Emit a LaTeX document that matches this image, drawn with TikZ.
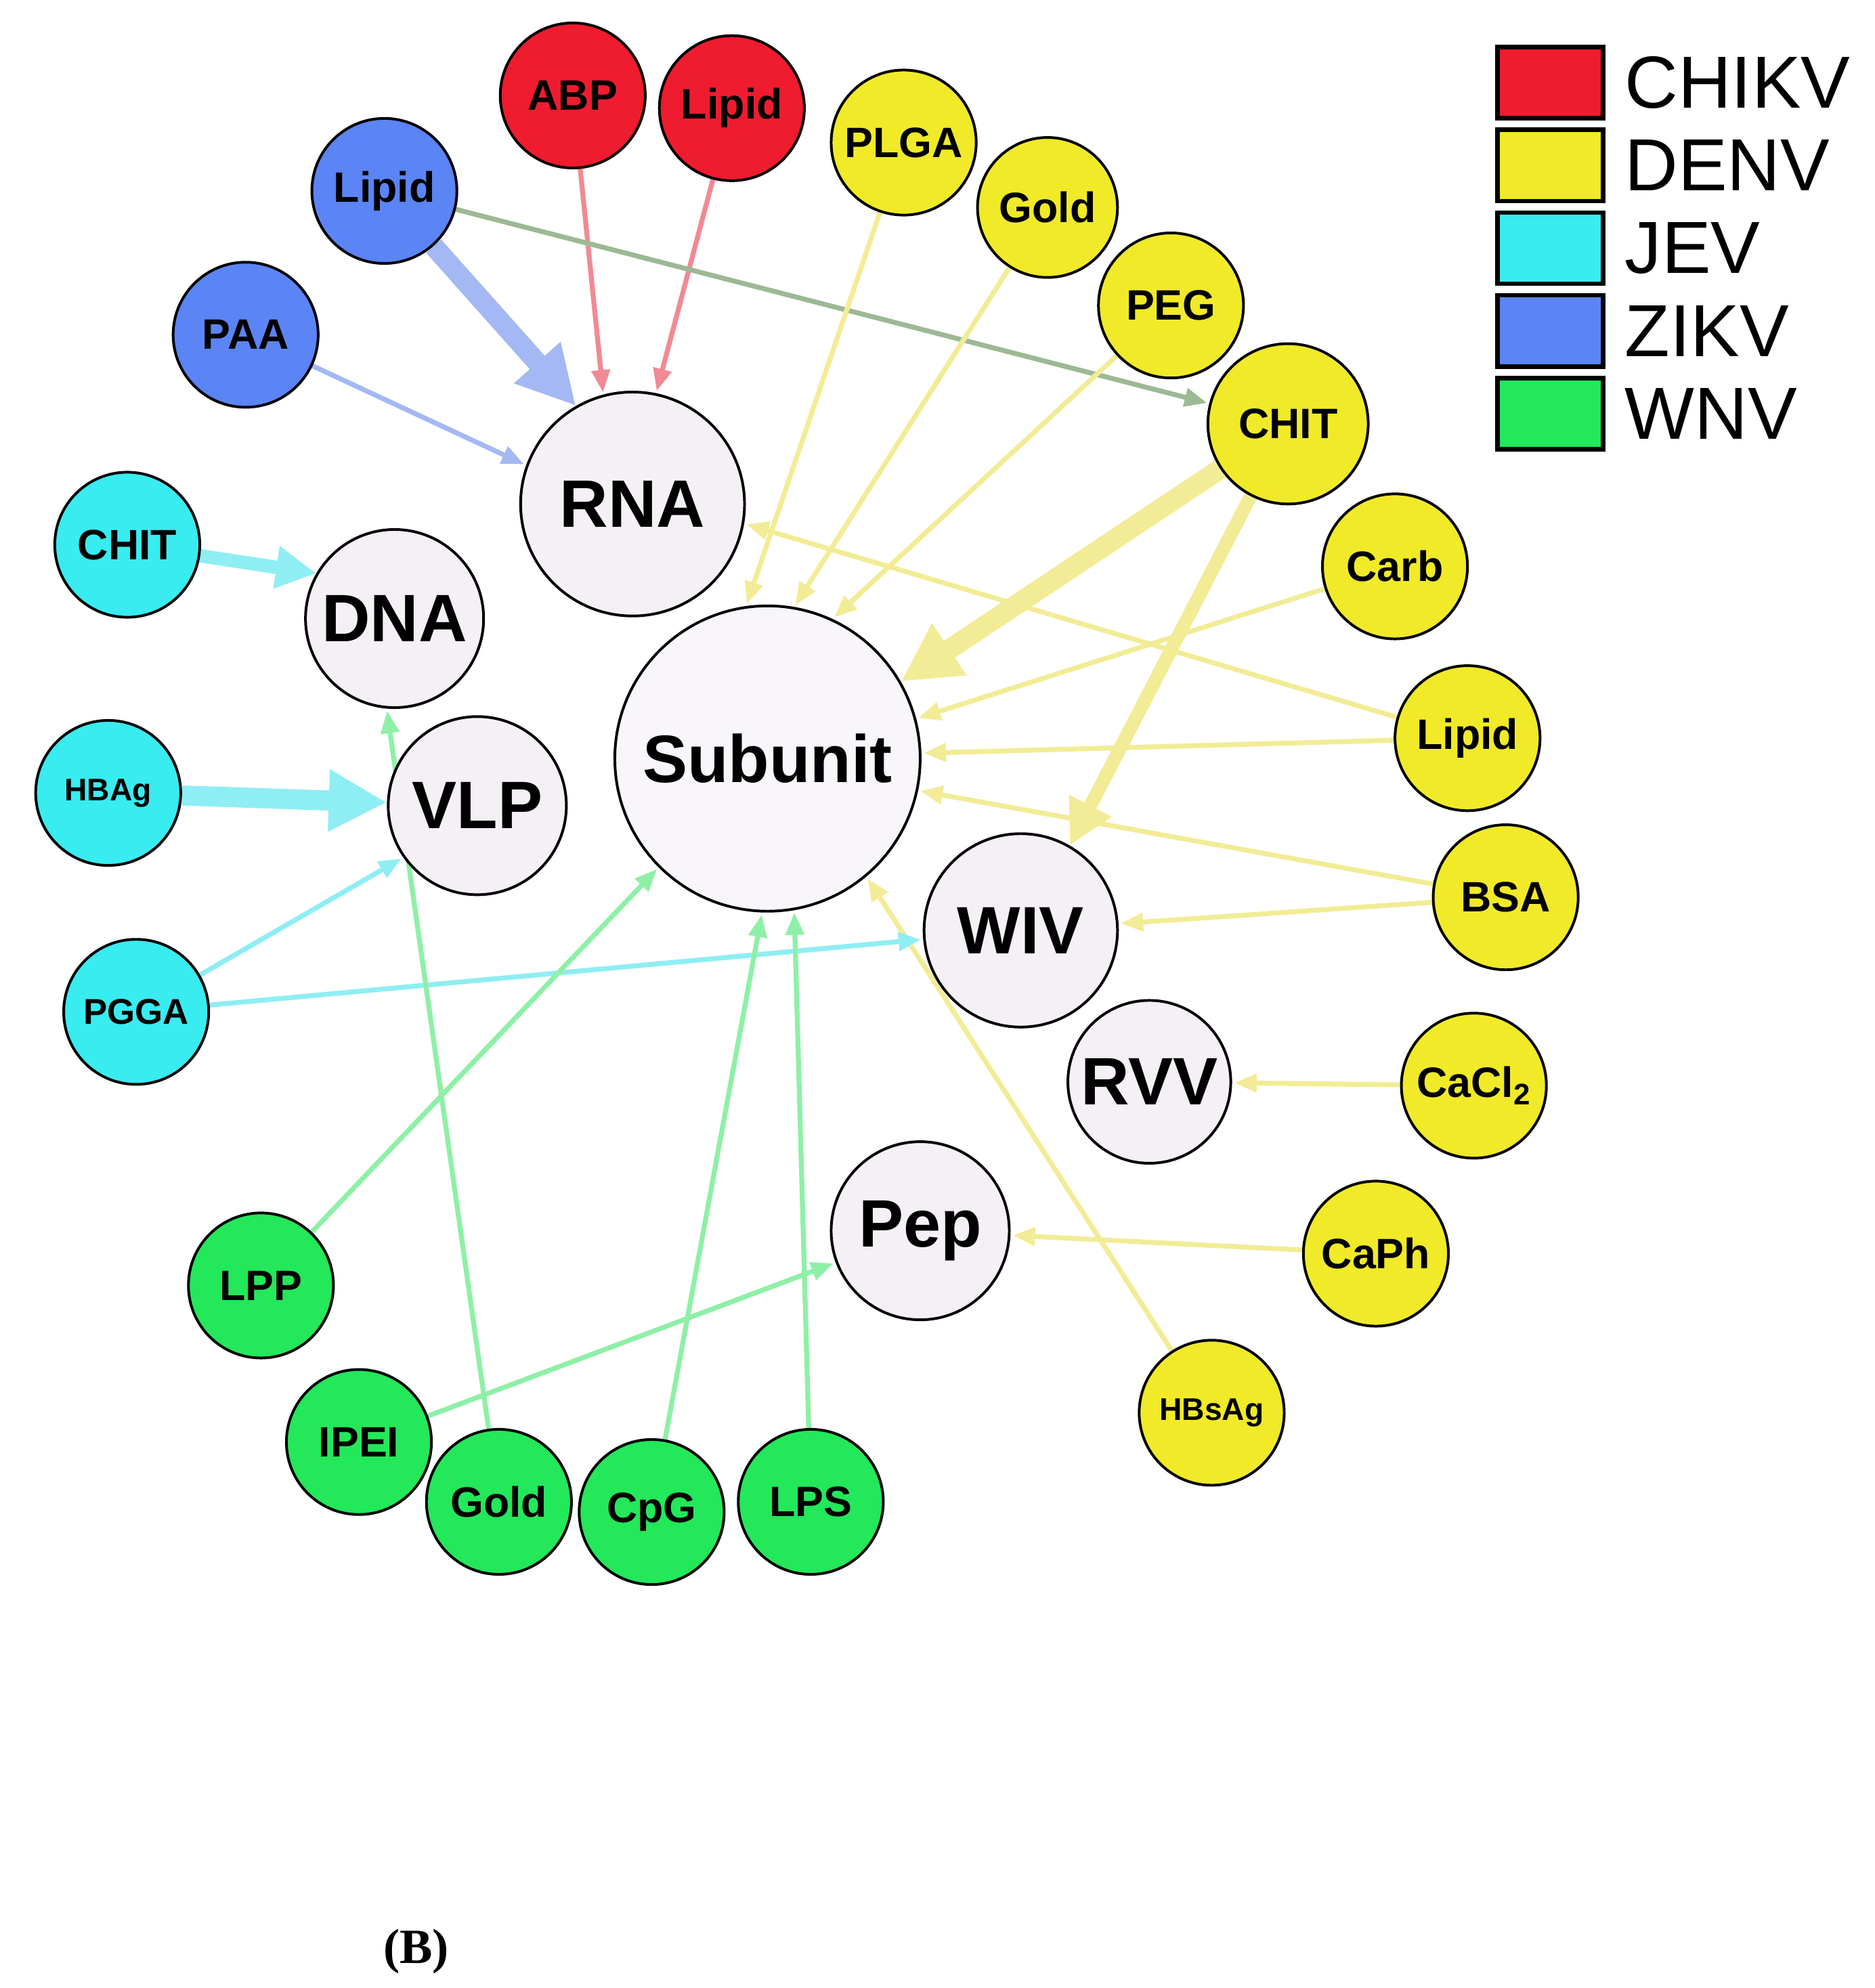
\documentclass[tikz,border=0pt]{standalone}
\usepackage{fontspec}
\setmainfont{Liberation Sans}
\usetikzlibrary{arrows.meta,backgrounds}
\definecolor{cred}{HTML}{EE1C2E}
\definecolor{cyel}{HTML}{F0EA28}
\definecolor{ccya}{HTML}{38ECF0}
\definecolor{cblu}{HTML}{5B84F5}
\definecolor{cgrn}{HTML}{22E85A}
\definecolor{cnode}{HTML}{F4F0F6}
\definecolor{ered}{HTML}{F08A94}
\definecolor{eyel}{HTML}{F2EC96}
\definecolor{ecya}{HTML}{8EEEF4}
\definecolor{eblu}{HTML}{A4B8F4}
\definecolor{egrn}{HTML}{8EF0A6}
\definecolor{egry}{HTML}{9CB894}
\begin{document}
\begin{tikzpicture}[x=0.02cm,y=-0.02cm,
  sm/.style={circle,draw=black,line width=1.2pt,minimum size=#1*0.04cm,inner sep=0pt,font=\bfseries\fontsize{19}{19}\selectfont},
  big/.style={circle,draw=black,line width=1.2pt,fill=cnode,minimum size=#1*0.04cm,inner sep=0pt,font=\bfseries\fontsize{30}{30}\selectfont},
  e/.style={draw=#1,line width=2.2pt,-{Triangle[length=10pt,width=8pt]},shorten >=1pt},
  th/.style={draw=#1,line width=9pt,-{Triangle[length=26pt,width=26pt]}},
  leg/.style={draw=black,line width=2pt,minimum width=1.66cm,minimum height=1.12cm,inner sep=0pt}
]
\useasboundingbox (0,0) rectangle (1473,1562);
% central nodes
\node[big=120,fill=cnode!60!white] (sub) at (603,596) {Subunit};
\node[big=88] (rna) at (497,396) {RNA};
\node[big=70] (dna) at (310,486) {DNA};
\node[big=70] (vlp) at (375,633) {VLP};
\node[big=76] (wiv) at (802,731) {WIV};
\node[big=64] (rvv) at (903,850) {RVV};
\node[big=70] (pep) at (723,967) {Pep};
% CHIKV
\node[sm=57,fill=cred] (abp) at (450,75) {ABP};
\node[sm=57,fill=cred] (lipr) at (575,85) {Lipid};
% ZIKV
\node[sm=57,fill=cblu] (lipb) at (302,150) {Lipid};
\node[sm=57,fill=cblu] (paa) at (193,263) {PAA};
% DENV
\node[sm=57,fill=cyel] (plga) at (710,112) {PLGA};
\node[sm=55,fill=cyel] (goldy) at (823,163) {Gold};
\node[sm=57,fill=cyel] (peg) at (920,240) {PEG};
\node[sm=63,fill=cyel] (chity) at (1012,333) {CHIT};
\node[sm=57,fill=cyel] (carb) at (1096,445) {Carb};
\node[sm=57,fill=cyel] (lipy) at (1153,580) {Lipid};
\node[sm=57,fill=cyel] (bsa) at (1183,705) {BSA};
\node[sm=57,fill=cyel] (cacl) at (1158,853) {CaCl\textsubscript{2}};
\node[sm=57,fill=cyel] (caph) at (1081,985) {CaPh};
\node[sm=57,fill=cyel,font=\bfseries\fontsize{14}{14}\selectfont] (hbs) at (952,1110) {HBsAg};
% JEV
\node[sm=57,fill=ccya] (chitc) at (100,428) {CHIT};
\node[sm=57,fill=ccya,font=\bfseries\fontsize{14}{14}\selectfont] (hba) at (85,623) {HBAg};
\node[sm=57,fill=ccya,font=\bfseries\fontsize{16}{16}\selectfont] (pgga) at (107,795) {PGGA};
% WNV
\node[sm=57,fill=cgrn] (lpp) at (205,1010) {LPP};
\node[sm=57,fill=cgrn] (ipei) at (282,1133) {IPEI};
\node[sm=57,fill=cgrn] (goldg) at (392,1180) {Gold};
\node[sm=57,fill=cgrn] (cpg) at (512,1188) {CpG};
\node[sm=57,fill=cgrn] (lps) at (637,1180) {LPS};
% edges
\begin{scope}[on background layer]
\draw[e=ered] (abp) -- (rna.105);
\draw[e=ered] (lipr) -- (rna.78);
\draw[th=eblu] (lipb) -- (rna.120);
\draw[e=egry] (lipb) -- (chity);
\draw[e=eblu] (paa) -- (rna.160);
\draw[e=eyel] (plga) -- (sub.98);
\draw[e=eyel] (goldy) -- (sub.80);
\draw[e=eyel] (peg) -- (sub.65);
\draw[th=eyel] (chity) -- (sub.30);
\draw[draw=eyel,line width=6pt,-{Triangle[length=20pt,width=20pt]}] (chity) -- (wiv.60);
\draw[e=eyel] (carb) -- (sub.15);
\draw[e=eyel] (lipy) -- (sub.2);
\draw[e=eyel] (lipy) -- (rna.-10);
\draw[e=eyel] (bsa) -- (sub.-12);
\draw[e=eyel] (bsa) -- (wiv);
\draw[e=eyel] (cacl) -- (rvv);
\draw[e=eyel] (caph) -- (pep);
\draw[e=eyel] (hbs) -- (sub.-50);
\draw[draw=ecya,line width=6pt,-{Triangle[length=18pt,width=18pt]}] (chitc) -- (dna.150);
\draw[th=ecya] (hba) -- (vlp);
\draw[e=ecya] (pgga) -- (vlp.215);
\draw[e=ecya] (pgga) -- (wiv);
\draw[e=egrn] (lpp) -- (sub.-135);
\draw[e=egrn] (ipei) -- (pep);
\draw[e=egrn] (goldg) -- (dna.-95);
\draw[e=egrn] (cpg) -- (sub.-92);
\draw[e=egrn] (lps) -- (sub.-80);
\end{scope}
% legend
\node[leg,fill=cred] (l1) at (1218,65) {};
\node[leg,fill=cyel] (l2) at (1218,130) {};
\node[leg,fill=ccya] (l3) at (1218,195) {};
\node[leg,fill=cblu] (l4) at (1218,260) {};
\node[leg,fill=cgrn] (l5) at (1218,325) {};
\foreach \n/\t in {l1/CHIKV,l2/DENV,l3/JEV,l4/ZIKV,l5/WNV}
  \node[anchor=west,font=\fontsize{33}{33}\selectfont,inner sep=0pt] at ([xshift=0.3cm]\n.east) {\t};
\node[font=\fontspec{Liberation Serif}\bfseries\fontsize{22}{22}\selectfont] (lab) at (327,1533) {(B)};
\end{tikzpicture}
\end{document}
